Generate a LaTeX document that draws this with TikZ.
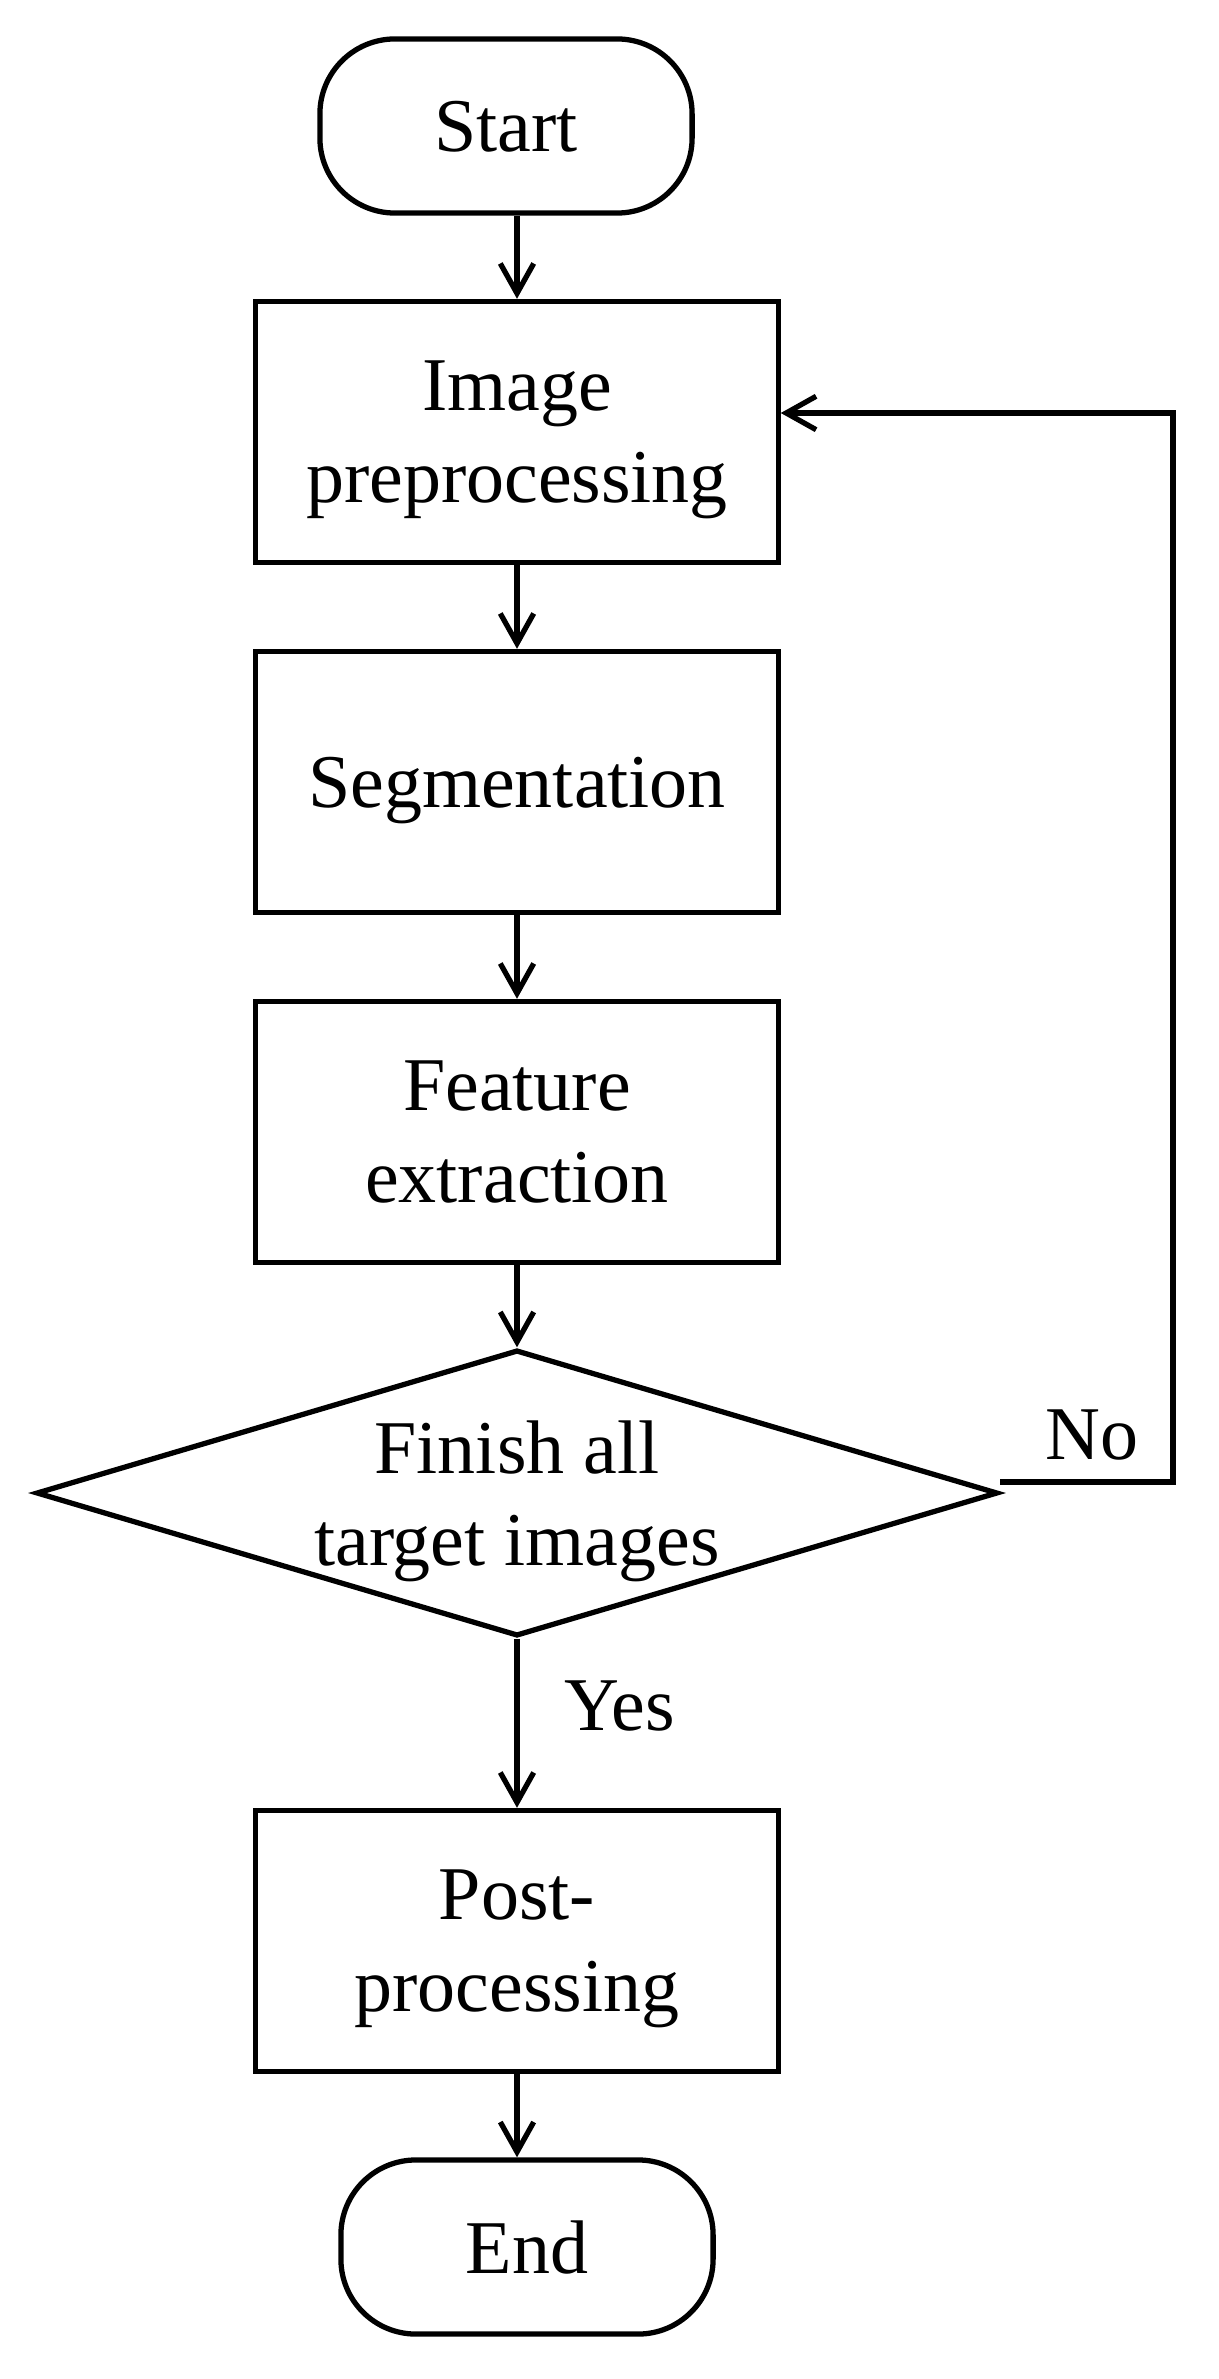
\documentclass[tikz,border=0pt]{standalone}
\usepackage{fontspec}
\setmainfont{Liberation Serif}
\usetikzlibrary{shapes.geometric,arrows.meta}
\tikzset{
  term/.style={draw, line width=1.5pt, rounded corners=0.75cm,
    minimum width=3.72cm, minimum height=1.74cm, inner sep=0pt, text depth=0pt},
  proc/.style={draw, line width=1.5pt, minimum width=5.22cm,
    minimum height=2.61cm, align=center, inner sep=0pt, text depth=0pt},
  decision/.style={draw, diamond, line width=1.5pt, aspect=3.36,
    minimum width=9.61cm, minimum height=2.86cm, align=center, inner sep=0pt,
    text depth=0pt},
  flow/.style={line width=1.5pt,
    -{Straight Barb[length=8.5pt,width=9.5pt,line width=1.5pt]}},
  lbl/.style={anchor=base, inner sep=0pt}
}

\begin{document}
\begin{tikzpicture}[x=0.01cm, y=-0.01cm, font=\fontsize{21.6}{26.2}\selectfont]
  \useasboundingbox (0,0) rectangle (1218,2379);

  % main column
  \node[term] (start) at (506,126) {Start};
  \node[proc] (img) at (517,432) {Image\\preprocessing};
  \node[proc] (seg) at (517,782) {Segmentation};
  \node[proc] (feat) at (517,1132) {Feature\\extraction};
  \node[decision] (chk) at (517,1493) {Finish all\\target images};
  \node[proc] (post) at (517,1941) {Post-\\processing};
  \node[term] (stop) at (527,2247) {End};

  \draw[flow] (img.north |- start.south) -- (img.north);
  \draw[flow] (img) -- (seg);
  \draw[flow] (seg) -- (feat);
  \draw[flow] (feat) -- (chk);
  \draw[flow] (chk) -- (post);
  \draw[flow] (post.south) -- (post.south |- stop.north);

  % loop back when not finished
  \coordinate (noR) at (1173,1482);
  \coordinate (backR) at (1173,413);
  \draw[flow] (chk.east |- noR) -- (noR) -- (backR) -- (img.east |- backR);

  \node[lbl] (no) at (1092,1459) {No};
  \node[lbl] (yes) at (620,1730) {Yes};
\end{tikzpicture}
\end{document}
